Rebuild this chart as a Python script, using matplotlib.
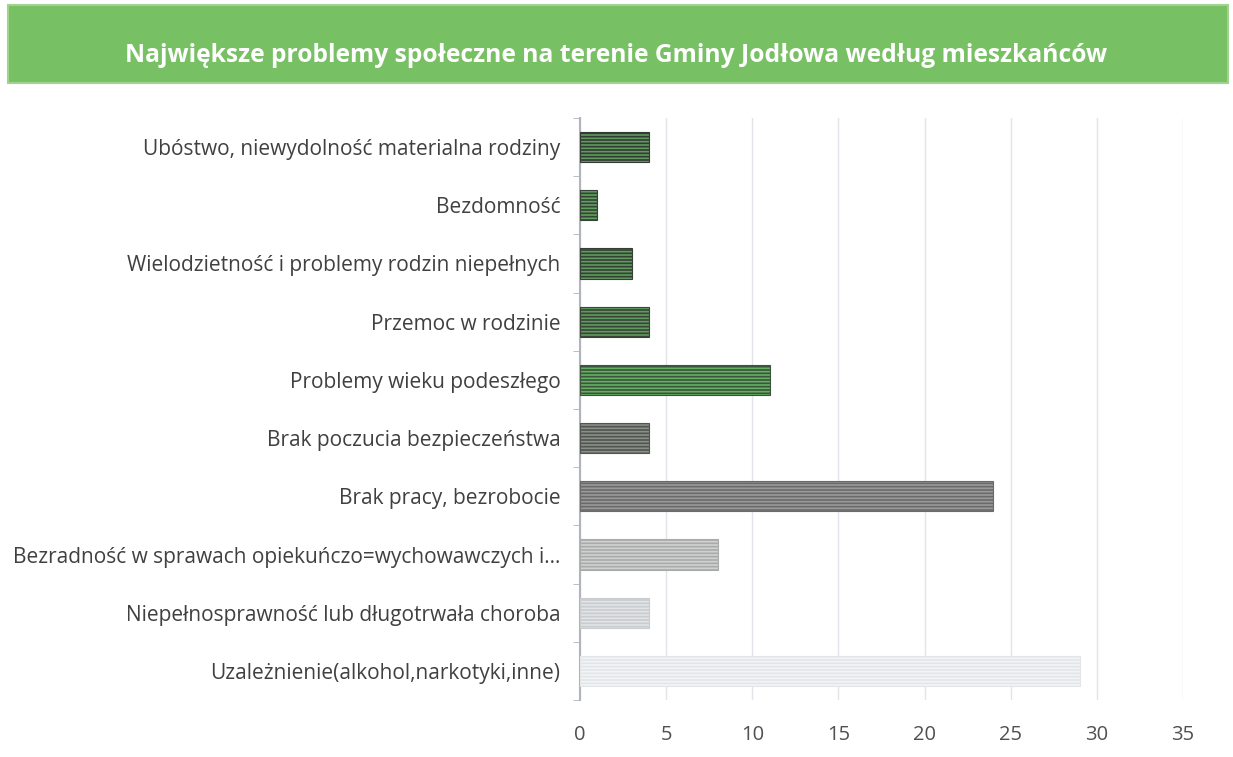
import matplotlib.pyplot as plt
from matplotlib.patches import Rectangle

# dane (od góry do dołu)
kategorie = ['Ubóstwo, niewydolność materialna rodziny',
             'Bezdomność',
             'Wielodzietność i problemy rodzin niepełnych',
             'Przemoc w rodzinie',
             'Problemy wieku podeszłego',
             'Brak poczucia bezpieczeństwa',
             'Brak pracy, bezrobocie',
             'Bezradność w sprawach opiekuńczo=wychowawczych i...',
             'Niepełnosprawność lub długotrwała choroba',
             'Uzależnienie(alkohol,narkotyki,inne)']
wartosci = [4, 1, 3, 4, 11, 4, 24, 8, 4, 29]
kolory = ['#333a33', '#364236', '#344034', '#384438', '#3c543c',
          '#505550', '#6a6a6a', '#a9abab', '#c9cdcf', '#e3e6e8']
kreski = ['#5f9a5f', '#5fa05f', '#5f9a5f', '#5f9a5f', '#62b062',
          '#8a8f8a', '#9a9a9a', '#d0d2d2', '#e2e4e6', '#f2f4f5']
tytul = 'Największe problemy społeczne na terenie Gminy Jodłowa według mieszkańców'

plt.rcParams['font.family'] = ['Open Sans', 'DejaVu Sans']
plt.rcParams['hatch.linewidth'] = 1.2

fig = plt.figure(figsize=(12.33, 7.57), dpi=100)
fig.patch.set_facecolor('white')

# zielony pasek z tytułem
fig.patches.append(Rectangle((8/1233, 1-83/757), 1220/1233, 78/757,
                             transform=fig.transFigure, facecolor='#78c064',
                             edgecolor='#9fd38e', linewidth=1.5))
fig.text(0.5, 1-56/757, tytul, ha='center', va='center', color='white',
         fontsize=17.7, fontweight='bold')

ax = fig.add_axes([580/1233, 1-700/757, 603/1233, 582/757])
y = list(range(len(kategorie)))
for i in y:
    ax.barh(i, wartosci[i], height=0.52, color=kolory[i], edgecolor=kreski[i],
            hatch='-----', linewidth=0, zorder=3)
    ax.barh(i, wartosci[i], height=0.52, color='none', edgecolor=kolory[i],
            linewidth=0.8, zorder=4)

ax.set_xlim(0, 35)
ax.set_ylim(len(kategorie) - 0.5, -0.5)
ax.set_xticks(range(0, 36, 5))
ax.set_yticks(y)
ax.set_yticklabels(kategorie)
ax.set_yticks([i + 0.5 for i in range(-1, len(kategorie))], minor=True)
ax.tick_params(axis='y', which='major', length=0, pad=14, labelsize=15,
               labelcolor='#404040')
ax.tick_params(axis='y', which='minor', length=5, color='#b0b4bc', direction='out')
ax.tick_params(axis='x', length=0, pad=18, labelsize=14.5, labelcolor='#505050')
ax.grid(axis='x', color='#e2e4ea', linewidth=1, zorder=0)
for s in ['top', 'right', 'bottom']:
    ax.spines[s].set_visible(False)
ax.spines['left'].set_color('#b0b4bc')
ax.spines['left'].set_linewidth(1.5)

fig.savefig('out.png', dpi=100)
